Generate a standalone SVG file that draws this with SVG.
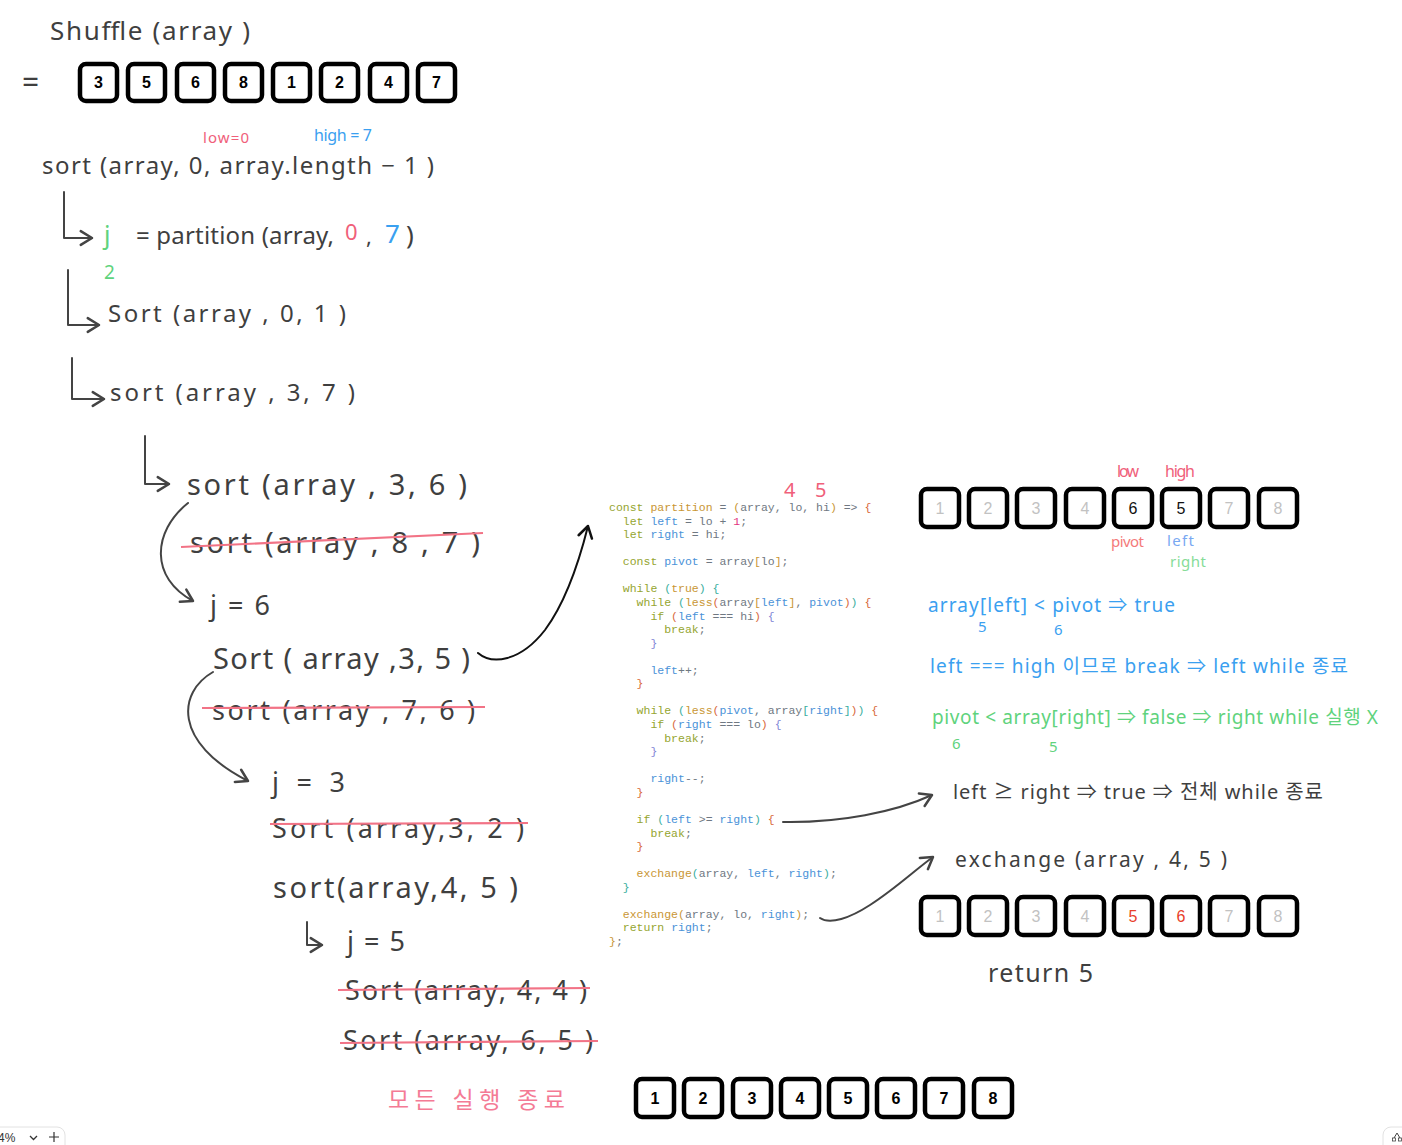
<svg xmlns="http://www.w3.org/2000/svg" width="1402" height="1145" viewBox="0 0 1402 1145">
<style>
.hw{font-family:"Noto Sans","Noto Sans CJK KR",sans-serif;fill:#3f3f3f}
.red{fill:#f0607a}
.blu{fill:#3aa0f0}
.grn{fill:#5fd37d}
.pink{fill:#f47b95}
.box{fill:#fff;stroke:#000;stroke-width:4.5}
.bn{font-family:"Liberation Sans",Arial,sans-serif;font-size:16px;text-anchor:middle}
.bold{font-weight:bold;fill:#000}
.dim{fill:#c2c2c2}
.blk{fill:#111}
.hot{fill:#e8402a}
.strike{stroke:#f27386;stroke-width:2.2;fill:none}
.ln{stroke:#444;stroke-width:2;fill:none;stroke-linecap:round;stroke-linejoin:round}
.code{font-family:"Liberation Mono","Courier New",monospace;font-size:11.5px;fill:#6f7882}
.k{fill:#95a530}.f{fill:#c99634}.v{fill:#4a92d8}.n{fill:#e2327d}.r{fill:#d8683a}.t{fill:#3aae9e}.u{fill:#7f84d6}
</style>
<defs>
<marker id="ah" markerUnits="userSpaceOnUse" markerWidth="20" markerHeight="20" refX="0" refY="0" viewBox="-12 -8 14 16" orient="auto">
<path d="M-9,-5.5 L0,0 L-9,5.5" fill="none" stroke="#444" stroke-width="2" stroke-linecap="round" stroke-linejoin="round"/>
</marker>
<marker id="ahk" markerUnits="userSpaceOnUse" markerWidth="20" markerHeight="20" refX="0" refY="0" viewBox="-12 -8 14 16" orient="auto">
<path d="M-9,-5.5 L0,0 L-9,5.5" fill="none" stroke="#111" stroke-width="2" stroke-linecap="round" stroke-linejoin="round"/>
</marker>
</defs>
<rect width="1402" height="1145" fill="#fff"/>

<g id="title">
<text class="hw" x="50" y="40" font-size="26" textLength="200">Shuffle (array )</text>
<text class="hw" x="22" y="93" font-size="30" textLength="22">=</text>
</g>

<g id="row-shuffled">
<rect class="box" x="80" y="64" width="37" height="37" rx="6"/><text class="bn bold" x="98.5" y="88">3</text>
<rect class="box" x="128" y="64" width="37" height="37" rx="6"/><text class="bn bold" x="146.5" y="88">5</text>
<rect class="box" x="177" y="64" width="37" height="37" rx="6"/><text class="bn bold" x="195.5" y="88">6</text>
<rect class="box" x="225" y="64" width="37" height="37" rx="6"/><text class="bn bold" x="243.5" y="88">8</text>
<rect class="box" x="273" y="64" width="37" height="37" rx="6"/><text class="bn bold" x="291.5" y="88">1</text>
<rect class="box" x="321" y="64" width="37" height="37" rx="6"/><text class="bn bold" x="339.5" y="88">2</text>
<rect class="box" x="370" y="64" width="37" height="37" rx="6"/><text class="bn bold" x="388.5" y="88">4</text>
<rect class="box" x="418" y="64" width="37" height="37" rx="6"/><text class="bn bold" x="436.5" y="88">7</text>
</g>

<g id="sort-root">
<text class="hw" x="42" y="174" font-size="24" textLength="392">sort (array, 0, array.length − 1 )</text>
<text class="hw red" x="203" y="143" font-size="15" textLength="46">low=0</text>
<text class="hw blu" x="314" y="141" font-size="16" textLength="58">high = 7</text>
</g>

<g id="partition-call">
<text class="hw grn" x="104" y="244" font-size="25">j</text>
<text class="hw" x="136" y="244" font-size="24" textLength="198">= partition (array,</text>
<text class="hw red" x="345" y="240" font-size="22">0</text>
<text class="hw" x="366" y="244" font-size="22">,</text>
<text class="hw blu" x="385" y="243" font-size="26">7</text>
<text class="hw" x="406" y="244" font-size="26">)</text>
<text class="hw grn" x="104" y="279" font-size="19">2</text>
</g>

<g id="sort-0-1">
<text class="hw" x="108" y="322" font-size="24" textLength="238">Sort (array , 0, 1 )</text>
</g>
<g id="sort-3-7">
<text class="hw" x="110" y="401" font-size="24" textLength="245">sort (array , 3, 7 )</text>
</g>
<g id="sort-3-6">
<text class="hw" x="187" y="495" font-size="29" textLength="280">sort (array , 3, 6 )</text>
</g>
<g id="sort-8-7">
<text class="hw" x="190" y="553" font-size="29" textLength="290">sort (array , 8 , 7 )</text>
</g>
<g id="j6">
<text class="hw" x="210" y="615" font-size="27" textLength="60">j = 6</text>
</g>
<g id="sort-3-5">
<text class="hw" x="213" y="669" font-size="29" textLength="257">Sort ( array ,3, 5 )</text>
</g>
<g id="sort-7-6">
<text class="hw" x="212" y="720" font-size="27" textLength="263">sort (array , 7, 6 )</text>
</g>
<g id="j3">
<text class="hw" x="272" y="792" font-size="27" textLength="73">j = 3</text>
</g>
<g id="sort-3-2">
<text class="hw" x="272" y="838" font-size="27" textLength="252">Sort (array,3, 2 )</text>
</g>
<g id="sort-4-5">
<text class="hw" x="273" y="898" font-size="29" textLength="245">sort(array,4, 5 )</text>
</g>
<g id="j5">
<text class="hw" x="347" y="951" font-size="27" textLength="58">j=5</text>
</g>
<g id="sort-4-4">
<text class="hw" x="345" y="1000" font-size="27" textLength="242">Sort (array, 4, 4 )</text>
</g>
<g id="sort-6-5">
<text class="hw" x="343" y="1050" font-size="27" textLength="250">Sort (array, 6, 5 )</text>
</g>
<g id="done">
<text class="hw pink" x="388" y="1108" font-size="23" textLength="177">모든 실행 종료</text>
</g>

<g id="row-final">
<rect class="box" x="636" y="1079" width="38" height="38" rx="6"/><text class="bn bold" x="655" y="1104">1</text>
<rect class="box" x="684" y="1079" width="38" height="38" rx="6"/><text class="bn bold" x="703" y="1104">2</text>
<rect class="box" x="733" y="1079" width="38" height="38" rx="6"/><text class="bn bold" x="752" y="1104">3</text>
<rect class="box" x="781" y="1079" width="38" height="38" rx="6"/><text class="bn bold" x="800" y="1104">4</text>
<rect class="box" x="829" y="1079" width="38" height="38" rx="6"/><text class="bn bold" x="848" y="1104">5</text>
<rect class="box" x="877" y="1079" width="38" height="38" rx="6"/><text class="bn bold" x="896" y="1104">6</text>
<rect class="box" x="925" y="1079" width="38" height="38" rx="6"/><text class="bn bold" x="944" y="1104">7</text>
<rect class="box" x="974" y="1079" width="38" height="38" rx="6"/><text class="bn bold" x="993" y="1104">8</text>
</g>

<g id="code">
<text class="hw red" x="784" y="497" font-size="20">4</text>
<text class="hw red" x="815" y="497" font-size="20">5</text>
<text class="code" x="609" y="511"><tspan class="k">const</tspan> <tspan class="f">partition</tspan> = <tspan class="f">(</tspan>array, lo, hi<tspan class="f">)</tspan> =&gt; <tspan class="r">{</tspan></text>
<text class="code" x="622.8" y="524.6"><tspan class="k">let</tspan> <tspan class="v">left</tspan> = lo + <tspan class="n">1</tspan>;</text>
<text class="code" x="622.8" y="538.1"><tspan class="k">let</tspan> <tspan class="v">right</tspan> = hi;</text>
<text class="code" x="622.8" y="565.2"><tspan class="k">const</tspan> <tspan class="v">pivot</tspan> = array<tspan class="f">[</tspan>lo<tspan class="f">]</tspan>;</text>
<text class="code" x="622.8" y="592.4"><tspan class="k">while</tspan> <tspan class="t">(</tspan><tspan class="f">true</tspan><tspan class="t">)</tspan> <tspan class="t">{</tspan></text>
<text class="code" x="636.6" y="605.9"><tspan class="k">while</tspan> <tspan class="t">(</tspan><tspan class="f">less</tspan><tspan class="r">(</tspan>array<tspan class="f">[</tspan><tspan class="v">left</tspan><tspan class="f">]</tspan>, <tspan class="v">pivot</tspan><tspan class="r">)</tspan><tspan class="t">)</tspan> <tspan class="r">{</tspan></text>
<text class="code" x="650.4" y="619.5"><tspan class="k">if</tspan> <tspan class="r">(</tspan><tspan class="v">left</tspan> === hi<tspan class="r">)</tspan> <tspan class="u">{</tspan></text>
<text class="code" x="664.2" y="633.1"><tspan class="k">break</tspan>;</text>
<text class="code u" x="650.4" y="646.6">}</text>
<text class="code" x="650.4" y="673.8"><tspan class="v">left</tspan>++;</text>
<text class="code r" x="636.6" y="687.3">}</text>
<text class="code" x="636.6" y="714.4"><tspan class="k">while</tspan> <tspan class="t">(</tspan><tspan class="f">less</tspan><tspan class="r">(</tspan><tspan class="v">pivot</tspan>, array<tspan class="t">[</tspan><tspan class="v">right</tspan><tspan class="t">]</tspan><tspan class="r">)</tspan><tspan class="t">)</tspan> <tspan class="r">{</tspan></text>
<text class="code" x="650.4" y="728"><tspan class="k">if</tspan> <tspan class="r">(</tspan><tspan class="v">right</tspan> === lo<tspan class="r">)</tspan> <tspan class="u">{</tspan></text>
<text class="code" x="664.2" y="741.6"><tspan class="k">break</tspan>;</text>
<text class="code u" x="650.4" y="755.1">}</text>
<text class="code" x="650.4" y="782.2"><tspan class="v">right</tspan>--;</text>
<text class="code r" x="636.6" y="795.8">}</text>
<text class="code" x="636.6" y="822.9"><tspan class="k">if</tspan> <tspan class="t">(</tspan><tspan class="v">left</tspan> &gt;= <tspan class="v">right</tspan><tspan class="t">)</tspan> <tspan class="r">{</tspan></text>
<text class="code" x="650.4" y="836.5"><tspan class="k">break</tspan>;</text>
<text class="code r" x="636.6" y="850">}</text>
<text class="code" x="636.6" y="877.2"><tspan class="f">exchange</tspan><tspan class="t">(</tspan>array, <tspan class="v">left</tspan>, <tspan class="v">right</tspan><tspan class="t">)</tspan>;</text>
<text class="code t" x="622.8" y="890.7">}</text>
<text class="code" x="622.8" y="917.8"><tspan class="f">exchange(</tspan>array, lo, <tspan class="v">right</tspan><tspan class="f">)</tspan>;</text>
<text class="code" x="622.8" y="931.4"><tspan class="k">return</tspan> <tspan class="v">right</tspan>;</text>
<text class="code" x="609" y="945"><tspan class="f">}</tspan>;</text>
</g>

<g id="row-state">
<text class="hw red" x="1117" y="477" font-size="16" textLength="22">low</text>
<text class="hw red" x="1165" y="477" font-size="16" textLength="30">high</text>
<rect class="box" x="921" y="489" width="38" height="38" rx="6"/><text class="bn dim" x="940" y="514">1</text>
<rect class="box" x="969" y="489" width="38" height="38" rx="6"/><text class="bn dim" x="988" y="514">2</text>
<rect class="box" x="1017" y="489" width="38" height="38" rx="6"/><text class="bn dim" x="1036" y="514">3</text>
<rect class="box" x="1066" y="489" width="38" height="38" rx="6"/><text class="bn dim" x="1085" y="514">4</text>
<rect class="box" x="1114" y="489" width="38" height="38" rx="6"/><text class="bn blk" x="1133" y="514">6</text>
<rect class="box" x="1162" y="489" width="38" height="38" rx="6"/><text class="bn blk" x="1181" y="514">5</text>
<rect class="box" x="1210" y="489" width="38" height="38" rx="6"/><text class="bn dim" x="1229" y="514">7</text>
<rect class="box" x="1259" y="489" width="38" height="38" rx="6"/><text class="bn dim" x="1278" y="514">8</text>
<text class="hw" x="1111" y="547" font-size="15" textLength="33" style="fill:#f47a7a">pivot</text>
<text class="hw" x="1167" y="546" font-size="15" textLength="27" style="fill:#79a8f2">left</text>
<text class="hw" x="1170" y="567" font-size="15" textLength="36" style="fill:#86dc98">right</text>
</g>

<g id="notes">
<text class="hw blu" x="928" y="612" font-size="19" textLength="247">array[left] &lt; pivot  ⇒  true</text>
<text class="hw blu" x="978" y="632" font-size="15">5</text>
<text class="hw blu" x="1054" y="635" font-size="15">6</text>
<text class="hw blu" x="930" y="673" font-size="19" textLength="418">left === high 이므로  break  ⇒  left while 종료</text>
<text class="hw grn" x="932" y="724" font-size="19" textLength="446">pivot &lt; array[right] ⇒ false ⇒ right while 실행 X</text>
<text class="hw grn" x="952" y="749" font-size="15">6</text>
<text class="hw grn" x="1049" y="752" font-size="15">5</text>
<text class="hw" x="953" y="799" font-size="20" textLength="370">left ≥ right ⇒ true ⇒ 전체 while 종료</text>
<text class="hw" x="955" y="867" font-size="21" textLength="272">exchange (array , 4,  5 )</text>
</g>

<g id="row-swapped">
<rect class="box" x="921" y="897" width="38" height="38" rx="6"/><text class="bn dim" x="940" y="922">1</text>
<rect class="box" x="969" y="897" width="38" height="38" rx="6"/><text class="bn dim" x="988" y="922">2</text>
<rect class="box" x="1017" y="897" width="38" height="38" rx="6"/><text class="bn dim" x="1036" y="922">3</text>
<rect class="box" x="1066" y="897" width="38" height="38" rx="6"/><text class="bn dim" x="1085" y="922">4</text>
<rect class="box" x="1114" y="897" width="38" height="38" rx="6"/><text class="bn hot" x="1133" y="922">5</text>
<rect class="box" x="1162" y="897" width="38" height="38" rx="6"/><text class="bn hot" x="1181" y="922">6</text>
<rect class="box" x="1210" y="897" width="38" height="38" rx="6"/><text class="bn dim" x="1229" y="922">7</text>
<rect class="box" x="1259" y="897" width="38" height="38" rx="6"/><text class="bn dim" x="1278" y="922">8</text>
</g>
<g id="return">
<text class="hw" x="988" y="982" font-size="25" textLength="105">return 5</text>
</g>

<g id="connectors">
<path class="ln" d="M64,192 L64,238 L92,238" marker-end="url(#ah)"/>
<path class="ln" d="M68,270 L68,325 L99,325" marker-end="url(#ah)"/>
<path class="ln" d="M72,358 L72,399 L104,399" marker-end="url(#ah)"/>
<path class="ln" d="M145,436 L145,484 L169,484" marker-end="url(#ah)"/>
<path class="ln" d="M307,922 L307,945 L322,945" marker-end="url(#ah)"/>
<path class="ln" d="M188,503 C152,532 150,578 193,601" marker-end="url(#ah)"/>
<path class="ln" d="M213,672 C178,692 172,742 248,781" marker-end="url(#ah)"/>
<path d="M478,653 C492,665 520,662 545,630 C565,603 579,562 588,526" fill="none" stroke="#111" stroke-width="2" stroke-linecap="round" marker-end="url(#ahk)"/>
<path class="ln" d="M783,822 C840,823 895,812 932,795" marker-end="url(#ah)"/>
<path class="ln" d="M820,918 C830,925 850,918 870,905 C895,889 915,870 933,857" marker-end="url(#ah)"/>
<path class="strike" d="M181,547 L483,533"/>
<path class="strike" d="M202,708 L485,707"/>
<path class="strike" d="M270,824 L528,823"/>
<path class="strike" d="M338,990 L590,988"/>
<path class="strike" d="M340,1043 L598,1041"/>
</g>

<g id="ui">
<rect x="-10" y="1127" width="75" height="30" rx="8" fill="#fff" stroke="#e2e2e2"/>
<text x="-2" y="1142" font-family="Liberation Sans,Arial,sans-serif" font-size="12" fill="#333">4%</text>
<path d="M30,1136 L33.5,1139.5 L37,1136" fill="none" stroke="#333" stroke-width="1.3"/>
<path d="M54,1132 L54,1142 M49,1137 L59,1137" stroke="#333" stroke-width="1.2"/>
<rect x="1383" y="1127" width="30" height="30" rx="8" fill="#fff" stroke="#e2e2e2"/>
<path d="M1397,1133 L1394,1138 M1397,1133 L1400,1138" stroke="#444" stroke-width="1" fill="none"/>
<rect x="1392.5" y="1138" width="3" height="3" fill="none" stroke="#444" stroke-width="0.8"/>
<rect x="1398.5" y="1138" width="3" height="3" fill="none" stroke="#444" stroke-width="0.8"/>
</g>
</svg>
